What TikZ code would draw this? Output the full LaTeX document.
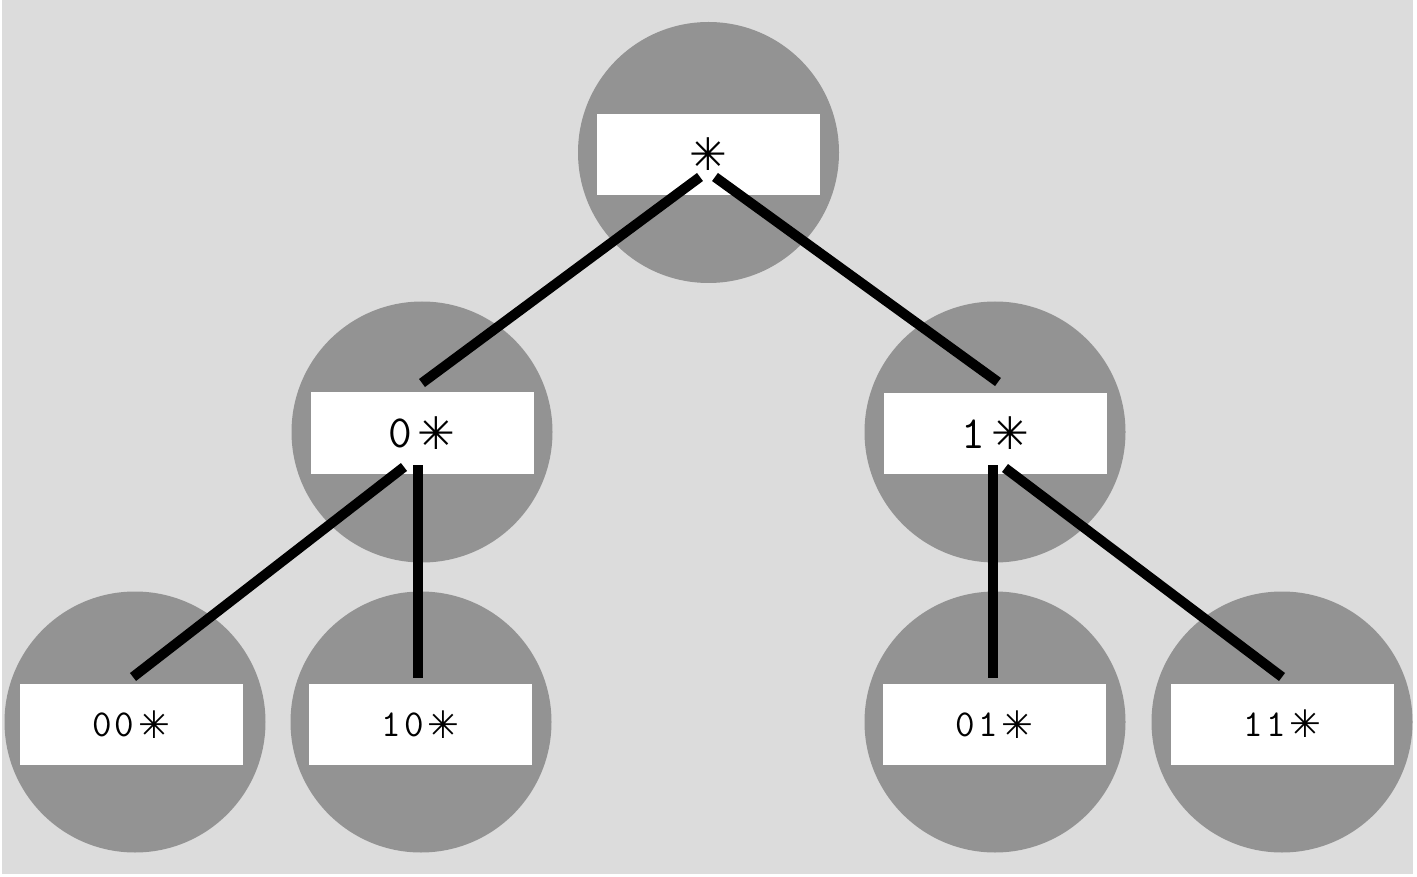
\documentclass[tikz,border=0pt]{standalone}
\usepackage{fontspec}
\newfontfamily\starfnt{DejaVu Sans}
\usetikzlibrary{calc}
\newcommand{\bigst}{{\starfnt\fontsize{45}{45}\selectfont\raisebox{-1.5pt}{✳}}}
\newcommand{\smst}{{\starfnt\fontsize{38}{38}\selectfont\raisebox{-1.5pt}{✳}}}
\definecolor{bggray}{HTML}{DCDCDC}
\definecolor{discgray}{HTML}{939393}
\tikzset{
  disc/.style={circle, fill=discgray, draw=none, minimum size=261pt, inner sep=0pt},
  labelbox/.style={rectangle, fill=white, draw=none, minimum width=223pt, minimum height=81pt, inner sep=0pt, text=black},
  midtext/.style={font=\ttfamily\fontsize{46}{46}\selectfont},
  leaftext/.style={font=\ttfamily\fontsize{38}{38}\selectfont},
  edge/.style={line width=10pt, line cap=butt, black}
}
\begin{document}
\begin{tikzpicture}[x=1pt,y=-1pt]
\useasboundingbox (0,0) rectangle (1417,877);
\fill[white] (0,0) rectangle (1417,877);
\fill[bggray] (2,0) rectangle (1413,874);
% discs
\node[disc] (droot) at (708.5,152.5) {};
\node[disc] (d0) at (422,432) {};
\node[disc] (d1) at (995,432) {};
\node[disc] (d00) at (135,722) {};
\node[disc] (d10) at (421,722) {};
\node[disc] (d01) at (995,722) {};
\node[disc] (d11) at (1282,722) {};
% label boxes
\node[labelbox, midtext] (root) at (708.5,154.5) {\bigst};
\node[labelbox, midtext] (n0) at (422,433) {0\kern6pt\bigst};
\node[labelbox, midtext] (n1) at (995.5,433.5) {1\kern6pt\bigst};
\node[labelbox, leaftext] (n00) at (131,724.5) {0\kern3pt0\kern4pt\smst};
\node[labelbox, leaftext] (n10) at (420.5,724.5) {1\kern3pt0\kern4pt\smst};
\node[labelbox, leaftext] (n01) at (994.5,724.5) {0\kern3pt1\kern4pt\smst};
\node[labelbox, leaftext] (n11) at (1282.5,724) {1\kern3pt1\kern4pt\smst};
% connector end points
\coordinate (rootL) at (700,177);
\coordinate (rootR) at (715,177);
\coordinate (n0top) at (422,383);
\coordinate (n1top) at (998,382);
\coordinate (n0L) at (404,467);
\coordinate (n0B) at (418,465);
\coordinate (n1B) at (993,465);
\coordinate (n1R) at (1005,468);
\coordinate (n00top) at (133,677);
\coordinate (n10top) at (418,678);
\coordinate (n01top) at (993,678);
\coordinate (n11top) at (1282,677);
% connectors
\draw[edge] (rootL) -- (n0top);
\draw[edge] (rootR) -- (n1top);
\draw[edge] (n0L) -- (n00top);
\draw[edge] (n0B) -- (n10top);
\draw[edge] (n1B) -- (n01top);
\draw[edge] (n1R) -- (n11top);
\end{tikzpicture}
\end{document}
